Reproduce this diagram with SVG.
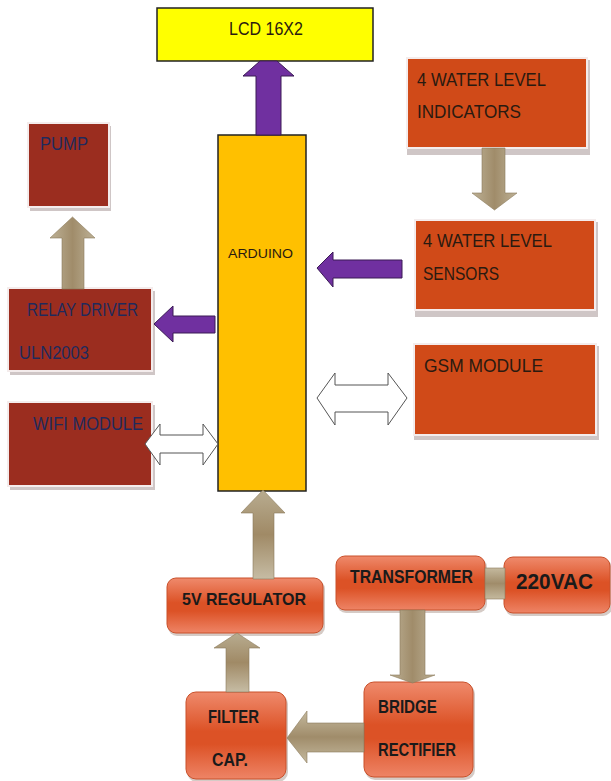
<svg xmlns="http://www.w3.org/2000/svg" width="611" height="781" viewBox="0 0 611 781">
<defs>
<linearGradient id="tanV" x1="0" y1="0" x2="1" y2="0">
<stop offset="0" stop-color="#bdb196"/><stop offset="0.5" stop-color="#a08c6a"/><stop offset="1" stop-color="#bdb196"/>
</linearGradient>
<linearGradient id="tanH" x1="0" y1="0" x2="0" y2="1">
<stop offset="0" stop-color="#c4b99e"/><stop offset="0.5" stop-color="#a08c6a"/><stop offset="1" stop-color="#c4b99e"/>
</linearGradient>
<linearGradient id="tanUp" x1="0" y1="0" x2="0" y2="1">
<stop offset="0" stop-color="#b8ac90"/><stop offset="0.5" stop-color="#a08a66"/><stop offset="1" stop-color="#c6bca4"/>
</linearGradient>
<linearGradient id="orangeG" x1="0" y1="0" x2="0" y2="1">
<stop offset="0" stop-color="#ef8a6c"/><stop offset="0.45" stop-color="#dc5226"/><stop offset="0.6" stop-color="#dc5226"/><stop offset="1" stop-color="#ee8466"/>
</linearGradient>
</defs>
<style>
.t{font-family:"Liberation Sans",Arial,sans-serif;font-size:18px}
.navy{fill:#1f2a5c}
.dark{fill:#2a1a10}
.b{font-weight:bold;fill:#1a1a1a;font-size:18px}
.brown{fill:#9b2d1f;stroke:#f4ecec;stroke-width:2}
.orange{fill:#d04a18;stroke:#f4ecec;stroke-width:2}
.shadow{fill:#cfc6c6}
.rbox{fill:url(#orangeG);stroke:#c9502a;stroke-width:1}
.rshadow{fill:#b9a9a0;opacity:0.6}
.purple{fill:#7030a0;stroke:#3a1a55;stroke-width:1}
.tan{stroke:#8c7a5a;stroke-width:0.6}
.dbl{fill:#ffffff;stroke:#555555;stroke-width:1}
</style>
<rect width="611" height="781" fill="#ffffff"/>

<g id="lcd">
<rect x="157" y="8" width="216" height="53" fill="#ffff00" stroke="#222222" stroke-width="1.5"/>
<text class="t dark" x="229" y="35" textLength="74" lengthAdjust="spacingAndGlyphs">LCD 16X2</text>
</g>

<g id="arduino">
<rect x="218" y="135" width="88" height="356" fill="#ffc000" stroke="#222222" stroke-width="1.5"/>
<text class="t dark" x="228" y="258" style="font-size:13.5px" textLength="65" lengthAdjust="spacingAndGlyphs">ARDUINO</text>
</g>

<g id="pump">
<rect class="shadow" x="30" y="126" width="81" height="85"/>
<rect class="brown" x="28" y="123" width="81" height="84"/>
<text class="t navy" x="40" y="150" textLength="48" lengthAdjust="spacingAndGlyphs">PUMP</text>
</g>

<g id="relay">
<rect class="shadow" x="10" y="291" width="145" height="84"/>
<rect class="brown" x="8" y="288" width="144" height="83"/>
<text class="t navy" x="27" y="316" textLength="111" lengthAdjust="spacingAndGlyphs">RELAY DRIVER</text>
<text class="t navy" x="19" y="359" textLength="70" lengthAdjust="spacingAndGlyphs">ULN2003</text>
</g>

<g id="wifi">
<rect class="shadow" x="10" y="405" width="145" height="85"/>
<rect class="brown" x="8" y="402" width="144" height="84"/>
<text class="t navy" x="33" y="430" textLength="110" lengthAdjust="spacingAndGlyphs">WIFI MODULE</text>
</g>

<g id="indicators">
<rect class="shadow" x="407" y="60" width="183" height="95"/>
<rect class="orange" x="407" y="58" width="180" height="90"/>
<text class="t dark" x="417" y="86" textLength="129" lengthAdjust="spacingAndGlyphs">4 WATER LEVEL</text>
<text class="t dark" x="417" y="118" textLength="104" lengthAdjust="spacingAndGlyphs">INDICATORS</text>
</g>

<g id="sensors">
<rect class="shadow" x="415" y="222" width="183" height="95"/>
<rect class="orange" x="415" y="220" width="180" height="90"/>
<text class="t dark" x="423" y="247" textLength="129" lengthAdjust="spacingAndGlyphs">4 WATER LEVEL</text>
<text class="t dark" x="423" y="280" textLength="76" lengthAdjust="spacingAndGlyphs">SENSORS</text>
</g>

<g id="gsm">
<rect class="shadow" x="414" y="346" width="185" height="94"/>
<rect class="orange" x="414" y="344" width="182" height="91"/>
<text class="t dark" x="424" y="372" textLength="119" lengthAdjust="spacingAndGlyphs">GSM MODULE</text>
</g>

<g id="regulator">
<rect class="rshadow" x="168" y="580" width="157" height="56" rx="9"/>
<rect class="rbox" x="167" y="578" width="156" height="55" rx="9"/>
<text class="t b" x="182" y="605" style="font-size:17px" textLength="124" lengthAdjust="spacingAndGlyphs">5V REGULATOR</text>
</g>

<g id="transformer">
<rect class="rshadow" x="337" y="558" width="150" height="55" rx="9"/>
<rect class="rbox" x="336" y="556" width="149" height="54" rx="9"/>
<text class="t b" x="350" y="583" textLength="123" lengthAdjust="spacingAndGlyphs">TRANSFORMER</text>
</g>

<g id="ac">
<rect class="rshadow" x="505" y="559" width="107" height="57" rx="9"/>
<rect class="rbox" x="504" y="557" width="106" height="56" rx="9"/>
<text class="t b" x="516" y="589" style="font-size:22px" textLength="77" lengthAdjust="spacingAndGlyphs">220VAC</text>
</g>

<g id="bridge">
<rect class="rshadow" x="365" y="684" width="110" height="96" rx="10"/>
<rect class="rbox" x="364" y="682" width="109" height="95" rx="10"/>
<text class="t b" x="378" y="713" textLength="59" lengthAdjust="spacingAndGlyphs">BRIDGE</text>
<text class="t b" x="378" y="756" textLength="78" lengthAdjust="spacingAndGlyphs">RECTIFIER</text>
</g>

<g id="filter">
<rect class="rshadow" x="187" y="694" width="101" height="88" rx="10"/>
<rect class="rbox" x="186" y="692" width="100" height="87" rx="10"/>
<text class="t b" x="208" y="723" textLength="51" lengthAdjust="spacingAndGlyphs">FILTER</text>
<text class="t b" x="212" y="766" textLength="36" lengthAdjust="spacingAndGlyphs">CAP.</text>
</g>

<g id="connectors">
<polygon class="purple" points="256,135 256,76 243,76 260,61 277,61 294,76 281,76 281,135"/>
<polygon class="tan" fill="url(#tanV)" points="62,289 62,238 50,238 72.5,217 95,238 84,238 84,289"/>
<polygon class="purple" points="215,316 173,316 173,306 154,324 173,342 173,333 215,333"/>
<polygon class="dbl" points="145,444 160,424 160,435 203,435 203,424 218,444 203,465 203,453 160,453 160,465"/>
<polygon class="tan" fill="url(#tanV)" points="482,148 482,193 472,193 494.5,210 517,193 505,193 505,148"/>
<polygon class="purple" points="402,260 333,260 333,252 317,268 333,287 333,278 402,278"/>
<polygon class="dbl" points="317,398 335,373 335,385 388,385 388,373 407,398 388,425 388,412 335,412 335,425"/>
<polygon class="tan" fill="url(#tanUp)" points="253,579 253,513 241,513 263,490 285,513 274,513 274,579"/>
<polygon class="tan" fill="url(#tanUp)" points="226,692 226,648 214,648 237,633 260,648 249,648 249,692"/>
<polygon class="tan" fill="url(#tanV)" points="400,610 400,675 390,675 412.5,683 435,675 425,675 425,610"/>
<polygon class="tan" fill="url(#tanH)" points="364,723 307,723 307,711 287,738 307,763 307,752 364,752"/>
<rect class="tan" fill="url(#tanH)" x="485" y="568" width="20" height="31"/>
</g>
</svg>
